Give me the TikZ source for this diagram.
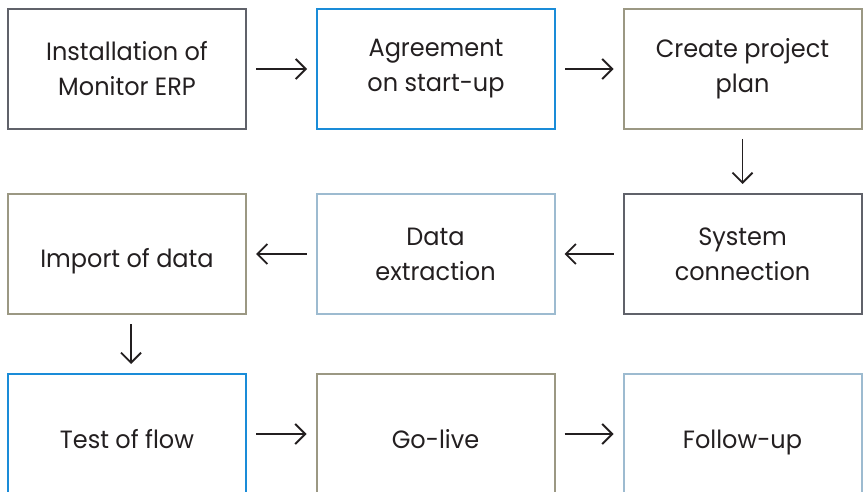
\documentclass[tikz,border=0pt]{standalone}
\usepackage{fontspec}
\setmainfont[FakeStretch=0.96]{Poppins}
\usetikzlibrary{arrows.meta}
\definecolor{cdark}{HTML}{60626A}
\definecolor{cblue}{HTML}{1A8CD8}
\definecolor{colive}{HTML}{9B9883}
\definecolor{clight}{HTML}{9DBBD0}
\definecolor{ctext}{HTML}{231F20}
\tikzset{
  box/.style={draw=#1, rectangle, line width=2pt, minimum width=238pt, minimum height=120pt,
    inner sep=0pt, align=center, text=ctext, font=\fontsize{25}{35}\selectfont},
  oneline/.style={text height=28pt, text depth=0pt},
  flow/.style={draw=ctext, line width=1.9pt, -{Straight Barb[length=10pt,width=20pt,line width=1.9pt]},
    shorten <=9pt, shorten >=9pt}
}
\begin{document}
\begin{tikzpicture}[x=1pt,y=-1pt]
\useasboundingbox (0,0) rectangle (863,492);
\node[box=cdark]  (n1) at (127,69)   {Installation of\\Monitor ERP};
\node[box=cblue]  (n2) at (436,69)   {Agreement\\on start-up};
\node[box=colive] (n3) at (742.5,69) {Create project\\plan};
\node[box=cdark]  (n6) at (742.5,254) {System\\connection};
\node[box=clight] (n5) at (435.5,254) {Data\\extraction};
\node[box=colive,oneline] (n4) at (127,254)  {Import of data};
\node[box=cblue,oneline]  (n7) at (127,434)  {Test of flow};
\node[box=colive,oneline] (n8) at (435.5,434) {Go-live};
\node[box=clight,oneline] (n9) at (742.5,434) {Follow-up};
\draw[flow] (n1) -- (n2);
\draw[flow] (n2) -- (n3);
\draw[flow] (n3) -- (n6);
\draw[flow] (n6) -- (n5);
\draw[flow] (n5) -- (n4);
\draw[flow] ([xshift=4pt]n4.south) -- ([xshift=4pt]n7.north);
\draw[flow] (n7) -- (n8);
\draw[flow] (n8) -- (n9);
\end{tikzpicture}
\end{document}
